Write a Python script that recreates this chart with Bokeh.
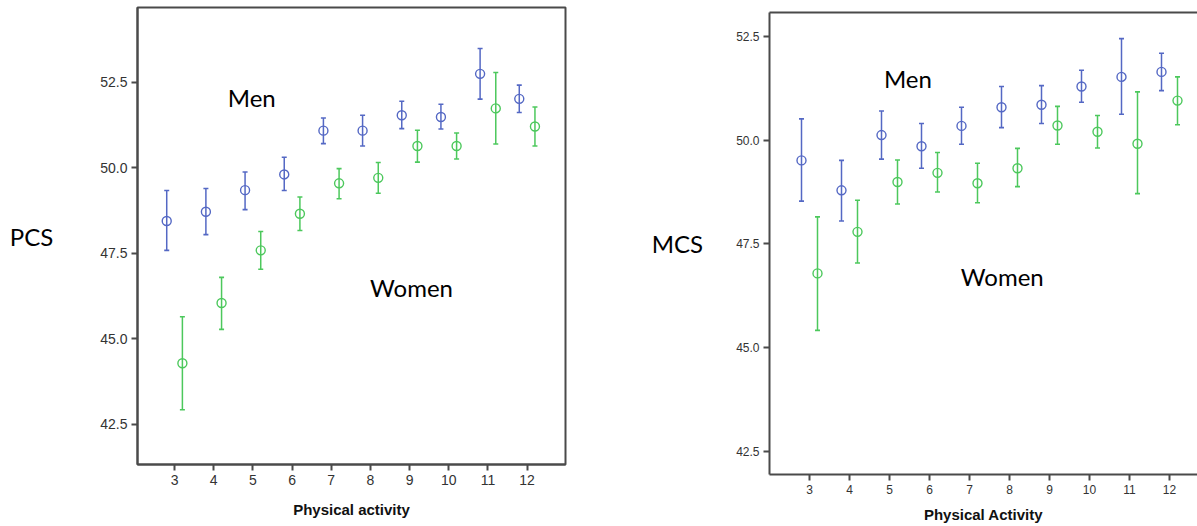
import numpy as np
from bokeh.plotting import figure
from bokeh.layouts import row, column
from bokeh.models import (ColumnDataSource, FixedTicker, NumeralTickFormatter,
                          Range1d, LinearAxis, Label)
from bokeh.embed import file_html
from bokeh.resources import INLINE

# ---------------- data ----------------
activity = [3, 4, 5, 6, 7, 8, 9, 10, 11, 12]

pcs_men_mean = [48.44, 48.71, 49.34, 49.80, 51.08, 51.08, 51.53, 51.48, 52.74, 52.01]
pcs_men_low = [47.58, 48.04, 48.77, 49.33, 50.70, 50.63, 51.14, 51.13, 52.00, 51.61]
pcs_men_high = [49.33, 49.39, 49.87, 50.30, 51.45, 51.53, 51.94, 51.85, 53.48, 52.41]
pcs_women_mean = [44.28, 46.04, 47.58, 48.65, 49.54, 49.70, 50.63, 50.63, 51.73, 51.20]
pcs_women_low = [42.92, 45.27, 47.03, 48.16, 49.09, 49.25, 50.16, 50.25, 50.69, 50.63]
pcs_women_high = [45.64, 46.79, 48.13, 49.14, 49.97, 50.15, 51.09, 51.01, 52.78, 51.77]

mcs_men_mean = [49.51, 48.79, 50.12, 49.85, 50.34, 50.79, 50.85, 51.29, 51.52, 51.64]
mcs_men_low = [48.53, 48.05, 49.54, 49.32, 49.90, 50.30, 50.40, 50.91, 50.62, 51.19]
mcs_men_high = [50.51, 49.51, 50.70, 50.40, 50.79, 51.29, 51.31, 51.68, 52.44, 52.09]
mcs_women_mean = [46.79, 47.79, 48.99, 49.21, 48.96, 49.32, 50.35, 50.20, 49.91, 50.95]
mcs_women_low = [45.42, 47.04, 48.46, 48.75, 48.49, 48.88, 49.90, 49.81, 48.71, 50.37]
mcs_women_high = [48.15, 48.55, 49.52, 49.70, 49.44, 49.80, 50.81, 50.59, 51.16, 51.52]

y_ticks = [42.5, 45.0, 47.5, 50.0, 52.5]
groups = ["Men", "Women"]

MEN_COLOR = "#5468c4"
WOMEN_COLOR = "#4cc85c"
AXIS_COLOR = "#4a4a4a"
TICK_FONT = "Liberation Sans"


def add_series(p, mean, low, high, offset, color):
    x = np.array(activity, dtype=float) + offset
    src = ColumnDataSource(dict(x=x, m=mean, lo=low, hi=high))
    p.segment(x0="x", y0="lo", x1="x", y1="hi", source=src,
              line_color=color, line_width=1.5)
    p.scatter(x="x", y="lo", source=src, marker="dash", size=5,
              line_color=color, line_width=1.6)
    p.scatter(x="x", y="hi", source=src, marker="dash", size=5,
              line_color=color, line_width=1.6)
    p.scatter(x="x", y="m", source=src, marker="circle", size=9,
              fill_color=None, line_color=color, line_width=1.4)


def style_axes(p, ylabel, xlabel, tick_size, ylabel_standoff, xlabel_standoff):
    xax = p.below[0]
    yax = p.left[0]
    for ax in (xax, yax):
        ax.axis_line_color = AXIS_COLOR
        ax.axis_line_width = 2
        ax.major_tick_line_color = AXIS_COLOR
        ax.major_tick_line_width = 2
        ax.major_tick_out = 6
        ax.major_tick_in = 0
        ax.minor_tick_line_color = None
        ax.major_label_text_font = TICK_FONT
        ax.major_label_text_font_size = tick_size
        ax.major_label_text_color = "#333333"
        ax.major_label_standoff = 4
    xax.ticker = FixedTicker(ticks=activity)
    yax.ticker = FixedTicker(ticks=y_ticks)
    yax.formatter = NumeralTickFormatter(format="0.0")

    xax.axis_label = xlabel
    xax.axis_label_text_font = "Liberation Sans"
    xax.axis_label_text_font_style = "bold"
    xax.axis_label_text_font_size = "15px"
    xax.axis_label_text_color = "#111111"
    xax.axis_label_standoff = xlabel_standoff

    yax.axis_label = ylabel
    yax.axis_label_orientation = "horizontal"
    yax.axis_label_text_font = "Lato"
    yax.axis_label_text_font_style = "normal"
    yax.axis_label_text_font_size = "24px"
    yax.axis_label_text_color = "#000000"
    yax.axis_label_standoff = ylabel_standoff

    p.xgrid.visible = False
    p.ygrid.visible = False


def add_group_labels(p, pos):
    for name, (lx, ly) in zip(groups, pos):
        p.add_layout(Label(x=lx, y=ly, text=name, text_font="Lato",
                           text_font_size="24px", text_color="#000000",
                           text_align="center", text_baseline="alphabetic"))


# ---------------- left panel: PCS ----------------
p1 = figure(width=645, height=526, output_backend="svg", toolbar_location=None,
            title=None,
            x_range=Range1d(2.054, 12.98), y_range=Range1d(41.32, 54.68),
            min_border_left=137, min_border_right=80, min_border_top=7,
            min_border_bottom=62)
p1.outline_line_color = AXIS_COLOR
p1.outline_line_width = 2
p1.outline_line_alpha = 1.0
add_series(p1, pcs_men_mean, pcs_men_low, pcs_men_high, -0.2, MEN_COLOR)
add_series(p1, pcs_women_mean, pcs_women_low, pcs_women_high, 0.2, WOMEN_COLOR)
style_axes(p1, "PCS", "Physical activity", "14px", 44, 13)
add_group_labels(p1, [(4.97, 52.06), (9.05, 46.50)])

# ---------------- right panel: MCS ----------------
p2 = figure(width=552, height=526, output_backend="svg", toolbar_location=None,
            title=None,
            x_range=Range1d(2.0, 12.7), y_range=Range1d(41.95, 53.07),
            min_border_left=124, min_border_right=0, min_border_top=12,
            min_border_bottom=52)
p2.outline_line_color = None
style_axes(p2, "MCS", "Physical Activity", "12px", 30, 9)
top_axis = LinearAxis(ticker=FixedTicker(ticks=[]), major_tick_out=0,
                      major_tick_in=0, major_label_text_font_size="0px",
                      major_label_standoff=0, axis_line_color=AXIS_COLOR,
                      axis_line_width=2, minor_tick_line_color=None)
p2.add_layout(top_axis, "above")
add_series(p2, mcs_men_mean, mcs_men_low, mcs_men_high, -0.2, MEN_COLOR)
add_series(p2, mcs_women_mean, mcs_women_low, mcs_women_high, 0.2, WOMEN_COLOR)
add_group_labels(p2, [(5.46, 51.47), (7.82, 46.72)])

layout = row(column(p1), column(p2))
open("out.html", "w").write(file_html(layout, INLINE))
